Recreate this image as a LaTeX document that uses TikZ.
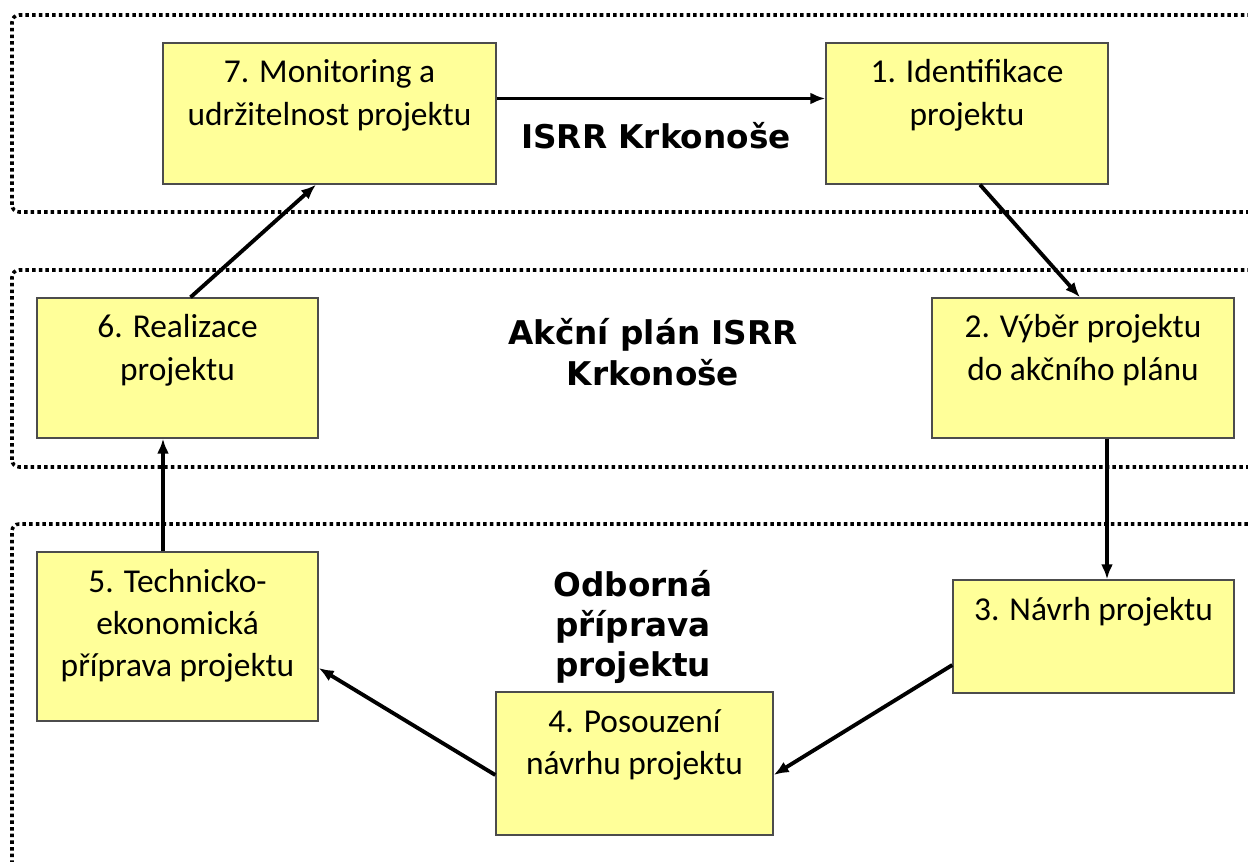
\documentclass[tikz,border=0pt]{standalone}
\usepackage{fontspec}
\setmainfont{Carlito}
\newfontfamily\labelfont{DejaVu Sans}
\usetikzlibrary{arrows.meta}
\definecolor{boxyellow}{RGB}{255,255,153}
\newcommand{\boxbody}[3]{\parbox[t][#2][t]{#1}{\centering\rule{0pt}{0.8cm}#3}}

\begin{document}
\begin{tikzpicture}[
    box/.style={draw=black!70, line width=0.8pt, fill=boxyellow, inner sep=0pt,
      font=\fontsize{19}{24}\selectfont},
    band/.style={line width=2pt, dash pattern=on 2pt off 1.8pt, rounded corners=4pt},
    title/.style={align=center, inner sep=0pt, font=\labelfont\bfseries\fontsize{18.6}{23}\selectfont},
    flow/.style={line width=2.2pt, -{Latex[length=0.3cm,width=0.24cm]}}
  ]
  \useasboundingbox (0,0) rectangle (24.96,17.22);
  \clip (0,0) rectangle (24.96,17.22);

  % levels
  \draw [band] (0.24,12.98) rectangle (26,16.92);
  \draw [band] (0.24,7.88) rectangle (26,11.82);
  \draw [band] (0.24,-1) rectangle (26,6.74);

  \node [title, anchor=base] (isrr) at (13.12,14.24) {ISRR Krkonoše};
  \node [title] (plan) at (13.06,10.18) {Akční plán ISRR\\Krkonoše};
  \node [title] (odb) at (12.66,4.68) {Odborná\\příprava\\projektu};

  % steps
  \node [box] (s7) at (6.59,14.95) {\boxbody{6.66cm}{2.82cm}{7. Monitoring a\\udržitelnost projektu}};
  \node [box] (s1) at (19.34,14.95) {\boxbody{5.64cm}{2.82cm}{1. Identifikace\\projektu}};
  \node [box] (s6) at (3.55,9.86) {\boxbody{5.62cm}{2.8cm}{6. Realizace\\projektu}};
  \node [box] (s2) at (21.66,9.86) {\boxbody{6.04cm}{2.8cm}{2. Výběr projektu\\do akčního plánu}};
  \node [box] (s5) at (3.55,4.49) {\boxbody{5.62cm}{3.38cm}{5. Technicko-\\ekonomická\\příprava projektu}};
  \node [box] (s3) at (21.87,4.49) {\boxbody{5.62cm}{2.26cm}{3. Návrh projektu}};
  \node [box] (s4) at (12.69,1.95) {\boxbody{5.54cm}{2.86cm}{4. Posouzení\\návrhu projektu}};

  % cycle
  \draw [flow] ([yshift=0.3cm]s7.east) -- ([yshift=0.3cm]s1.west);
  \draw [flow] ([xshift=0.26cm]s1.south) -- ([xshift=-0.06cm]s2.north);
  \draw [flow] ([xshift=0.48cm]s2.south) -- ([xshift=0.48cm]s2.south |- s3.north);
  \draw [flow] ([yshift=-0.57cm]s3.west) -- ([yshift=-0.23cm]s4.east);
  \draw [flow] ([yshift=-0.23cm]s4.west) -- ([yshift=-0.63cm]s5.east);
  \draw [flow] ([xshift=-0.29cm]s5.north) -- ([xshift=-0.29cm]s6.south);
  \draw [flow] ([xshift=0.26cm]s6.north) -- ([xshift=-0.27cm]s7.south);
\end{tikzpicture}
\end{document}
